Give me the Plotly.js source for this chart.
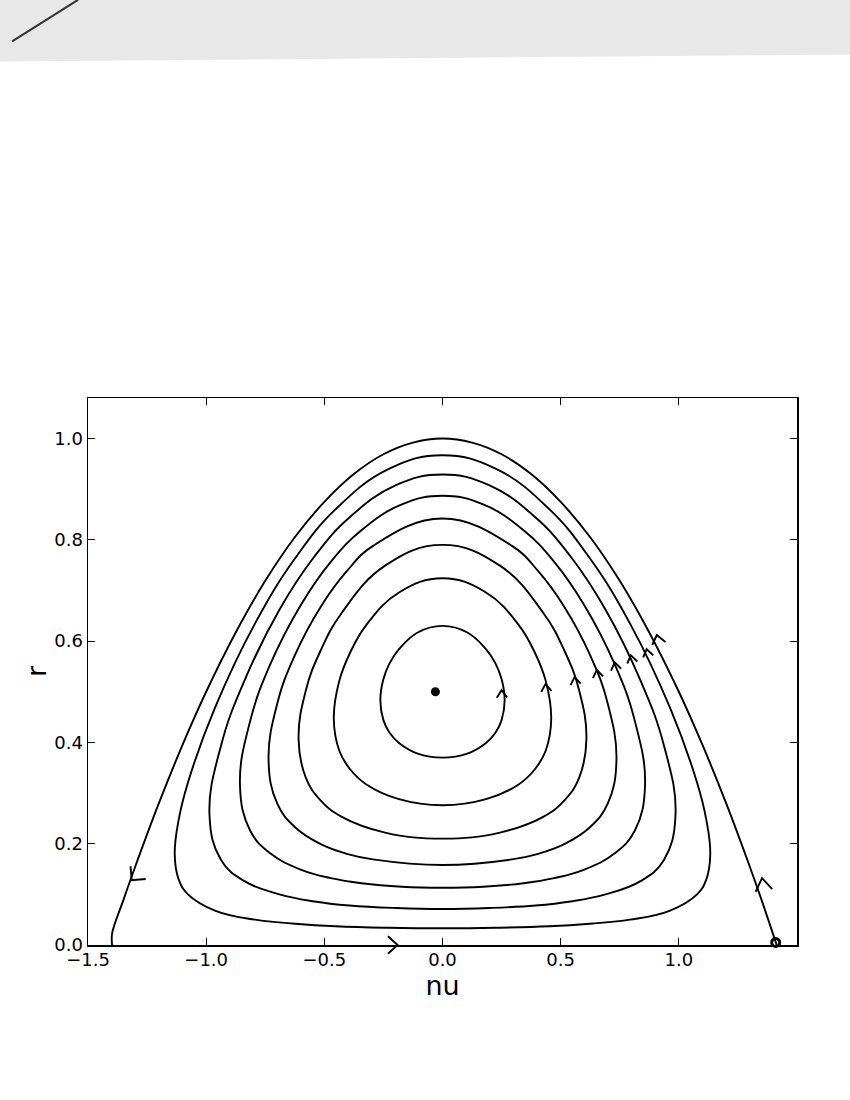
<!DOCTYPE html>
<html>
<head>
<meta charset="utf-8">
<script src="https://cdn.plot.ly/plotly-3.0.1.min.js"></script>
<style>
  body { margin: 0; background: #fff; }
  #phase-plot { width: 850px; height: 1100px; }
</style>
</head>
<body>
<div id="phase-plot"></div>
<script>
// Closed orbits (nu, r), innermost first
const orbitNu1 = [0, 0.105, 0.184, 0.224, 0.250, 0.263, 0.250, 0.224, 0.184, 0.105, 0, -0.105, -0.184, -0.224, -0.250, -0.263, -0.250, -0.224, -0.184, -0.105, 0];
const orbitR1 = [0.370, 0.378, 0.399, 0.419, 0.444, 0.483, 0.525, 0.556, 0.584, 0.617, 0.630, 0.617, 0.584, 0.556, 0.525, 0.483, 0.444, 0.419, 0.399, 0.378, 0.370];

const orbitNu2 = [0, 0.184, 0.322, 0.391, 0.437, 0.460, 0.437, 0.391, 0.322, 0.184, 0, -0.184, -0.322, -0.391, -0.437, -0.460, -0.437, -0.391, -0.322, -0.184, 0];
const orbitR2 = [0.276, 0.288, 0.317, 0.347, 0.384, 0.447, 0.521, 0.577, 0.632, 0.696, 0.724, 0.696, 0.632, 0.577, 0.521, 0.447, 0.384, 0.347, 0.317, 0.288, 0.276];

const orbitNu3 = [0, 0.243, 0.426, 0.517, 0.578, 0.609, 0.578, 0.517, 0.426, 0.243, 0, -0.243, -0.426, -0.517, -0.578, -0.609, -0.578, -0.517, -0.426, -0.243, 0];
const orbitR3 = [0.210, 0.222, 0.253, 0.286, 0.330, 0.407, 0.503, 0.580, 0.656, 0.749, 0.790, 0.749, 0.656, 0.580, 0.503, 0.407, 0.330, 0.286, 0.253, 0.222, 0.210];

const orbitNu4 = [0, 0.294, 0.405, 0.515, 0.625, 0.699, 0.736, 0.699, 0.625, 0.515, 0.405, 0.294, 0, -0.294, -0.405, -0.515, -0.625, -0.699, -0.736, -0.699, -0.625, -0.515, -0.405, -0.294, 0];
const orbitR4 = [0.158, 0.169, 0.180, 0.199, 0.233, 0.279, 0.365, 0.477, 0.572, 0.668, 0.738, 0.788, 0.842, 0.788, 0.738, 0.668, 0.572, 0.477, 0.365, 0.279, 0.233, 0.199, 0.180, 0.169, 0.158];

const orbitNu5 = [0, 0.172, 0.343, 0.472, 0.600, 0.729, 0.814, 0.857, 0.814, 0.729, 0.600, 0.472, 0.343, 0.172, 0, -0.172, -0.343, -0.472, -0.600, -0.729, -0.814, -0.857, -0.814, -0.729, -0.600, -0.472, -0.343, -0.172, 0];
const orbitR5 = [0.113, 0.115, 0.122, 0.132, 0.149, 0.181, 0.226, 0.316, 0.442, 0.554, 0.671, 0.757, 0.819, 0.870, 0.887, 0.870, 0.819, 0.757, 0.671, 0.554, 0.442, 0.316, 0.226, 0.181, 0.149, 0.132, 0.122, 0.115, 0.113];

const orbitNu6 = [0, 0.197, 0.394, 0.542, 0.690, 0.838, 0.937, 0.986, 0.937, 0.838, 0.690, 0.542, 0.394, 0.197, 0, -0.197, -0.394, -0.542, -0.690, -0.838, -0.937, -0.986, -0.937, -0.838, -0.690, -0.542, -0.394, -0.197, 0];
const orbitR6 = [0.071, 0.073, 0.078, 0.086, 0.100, 0.126, 0.168, 0.257, 0.394, 0.522, 0.662, 0.767, 0.844, 0.908, 0.929, 0.908, 0.844, 0.767, 0.662, 0.522, 0.394, 0.257, 0.168, 0.126, 0.100, 0.086, 0.078, 0.073, 0.071];

const orbitNu7 = [0, 0.227, 0.453, 0.623, 0.793, 0.963, 1.077, 1.116, 1.133, 1.116, 1.077, 0.963, 0.793, 0.623, 0.453, 0.227, 0, -0.227, -0.453, -0.623, -0.793, -0.963, -1.077, -1.116, -1.133, -1.116, -1.077, -0.963, -0.793, -0.623, -0.453, -0.227, 0];
const orbitR7 = [0.033, 0.034, 0.037, 0.042, 0.050, 0.068, 0.100, 0.129, 0.179, 0.248, 0.321, 0.468, 0.635, 0.764, 0.860, 0.940, 0.967, 0.940, 0.860, 0.764, 0.635, 0.468, 0.321, 0.248, 0.179, 0.129, 0.100, 0.068, 0.050, 0.042, 0.037, 0.034, 0.033];

// Separatrix from the left foot over r = 1 down to the right foot
const separatrixNu = [-1.398, -1.398, -1.35, -1.3, -1.2, -1.1, -1.0, -0.875, -0.75, -0.625, -0.5, -0.375, -0.25, -0.125, 0, 0.125, 0.25, 0.375, 0.5, 0.625, 0.75, 0.875, 1.0, 1.1, 1.2, 1.3, 1.35, 1.414];
const separatrixR = [0.0, 0.023, 0.089, 0.155, 0.28, 0.395, 0.5, 0.617, 0.719, 0.805, 0.875, 0.930, 0.969, 0.992, 1.0, 0.992, 0.969, 0.930, 0.875, 0.805, 0.719, 0.617, 0.5, 0.395, 0.28, 0.155, 0.089, 0.0];

// Hand-drawn direction marks: tip position, heading (deg clockwise from up),
// arm length (px) and half opening (deg)
const arrowNu = [0.25, 0.436, 0.559, 0.653, 0.729, 0.797, 0.864, 0.907, -1.315, 1.352, -0.19];
const arrowR = [0.503, 0.515, 0.529, 0.543, 0.558, 0.572, 0.584, 0.612, 0.128, 0.132, 0.0];
const arrowHeading = [-3, -6, -8, -9, -10, -11, -12, -13, 220, -9, 90];
const arrowArm = [9, 9, 9, 9, 9, 9, 9, 11, 14, 15, 13];
const arrowSpread = [35, 35, 35, 35, 35, 35, 35, 38, 45, 34, 42];

// Centre point and the end point of the separatrix
const centerNu = [-0.03];
const centerR = [0.5];
const endNu = [1.41];
const endR = [0.005];

// Axis ticks
const xTickVals = [-1.5, -1.0, -0.5, 0.0, 0.5, 1.0];
const xTickText = ["−1.5", "−1.0", "−0.5", "0.0", "0.5", "1.0"];
const yTickVals = [0.0, 0.2, 0.4, 0.6, 0.8, 1.0];
const yTickText = ["0.0", "0.2", "0.4", "0.6", "0.8", "1.0"];

const curveLine = { color: "black", width: 1.9, shape: "spline", smoothing: 1.2 };

const orbits = [
    [orbitNu1, orbitR1], [orbitNu2, orbitR2], [orbitNu3, orbitR3], [orbitNu4, orbitR4],
    [orbitNu5, orbitR5], [orbitNu6, orbitR6], [orbitNu7, orbitR7],
];

const traces = orbits.map(([nu, r]) => ({
    x: nu,
    y: r,
    type: "scatter",
    mode: "lines",
    line: curveLine,
    hoverinfo: "skip",
}));

traces.push({
    x: separatrixNu,
    y: separatrixR,
    type: "scatter",
    mode: "lines",
    line: { color: "black", width: 1.9, shape: "spline", smoothing: 1 },
    hoverinfo: "skip",
});

traces.push({
    x: centerNu,
    y: centerR,
    type: "scatter",
    mode: "markers",
    marker: { color: "black", size: 9 },
    cliponaxis: false,
});

traces.push({
    x: endNu,
    y: endR,
    type: "scatter",
    mode: "markers",
    marker: { symbol: "circle-open", color: "black", size: 8, line: { width: 3, color: "black" } },
    cliponaxis: false,
});

// each chevron is a pixel-sized path anchored at its tip in data coordinates;
// the one sitting on r = 0 is anchored to the paper edge so it is not clipped
const chevronShapes = arrowNu.map((nu, i) => {
    const arms = [1, -1].map((side) => {
        const psi = ((arrowHeading[i] + 180 + side * arrowSpread[i]) * Math.PI) / 180;
        return [arrowArm[i] * Math.sin(psi), arrowArm[i] * Math.cos(psi)];
    });
    const onAxis = arrowR[i] === 0;
    return {
        type: "path",
        xref: "x",
        yref: onAxis ? "paper" : "y",
        xsizemode: "pixel",
        ysizemode: "pixel",
        xanchor: nu,
        yanchor: onAxis ? 0 : arrowR[i],
        path: `M ${arms[0][0].toFixed(2)},${arms[0][1].toFixed(2)} L 0,0 L ${arms[1][0].toFixed(2)},${arms[1][1].toFixed(2)}`,
        line: { color: "black", width: 1.9 },
        layer: "above",
    };
});

const axisCommon = {
    showgrid: false,
    zeroline: false,
    showline: true,
    linecolor: "black",
    linewidth: 1.5,
    mirror: "ticks",
    ticks: "inside",
    ticklen: 7,
    tickwidth: 1,
    tickcolor: "black",
    tickfont: { family: "DejaVu Sans", size: 18, color: "black" },
    automargin: true,
};

const layout = {
    width: 850,
    height: 1100,
    showlegend: false,
    paper_bgcolor: "white",
    plot_bgcolor: "white",
    margin: { l: 88, r: 53, t: 398, b: 155 },
    xaxis: Object.assign({}, axisCommon, {
        range: [-1.5, 1.5],
        tickvals: xTickVals,
        ticktext: xTickText,
        ticklabelstandoff: -2,
        title: { text: "nu", font: { family: "DejaVu Sans", size: 27, color: "black" }, standoff: 0 },
    }),
    yaxis: Object.assign({}, axisCommon, {
        range: [0, 1.08],
        tickvals: yTickVals,
        ticktext: yTickText,
        title: { text: "r", font: { family: "DejaVu Sans", size: 27, color: "black" }, standoff: 0 },
    }),
    // scanned paper band at the top of the page, then the chevrons
    shapes: [
        {
            type: "path",
            xref: "paper",
            yref: "paper",
            path: "M -0.125,1.73 L 1.08,1.73 L 1.08,1.628 L -0.125,1.615 Z",
            fillcolor: "#e8e8e8",
            line: { width: 0 },
            layer: "below",
        },
        {
            type: "line",
            xref: "paper",
            yref: "paper",
            x0: -0.107, y0: 1.652, x1: -0.014, y1: 1.728,
            line: { color: "#333", width: 2 },
        },
    ].concat(chevronShapes),
};

Plotly.newPlot("phase-plot", traces, layout, { staticPlot: true });
</script>
</body>
</html>
